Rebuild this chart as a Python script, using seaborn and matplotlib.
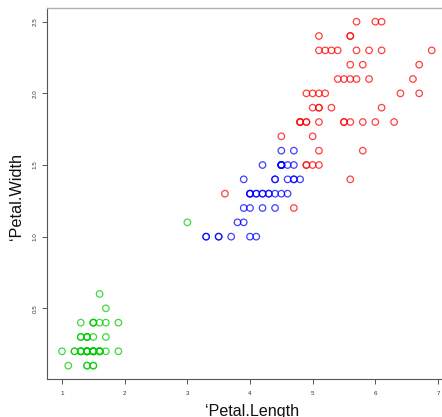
import matplotlib
matplotlib.use("Agg")
import matplotlib.pyplot as plt
import seaborn as sns
import pandas as pd

# cluster 1 (green)
green_length = [1.4, 1.4, 1.3, 1.5, 1.4, 1.7, 1.4, 1.5, 1.4, 1.5, 1.5, 1.6, 1.4, 1.1, 1.2, 1.5, 1.3,
                1.4, 1.7, 1.5, 1.7, 1.5, 1.0, 1.7, 1.9, 1.6, 1.6, 1.5, 1.4, 1.6, 1.6, 1.5, 1.5, 1.4,
                1.5, 1.2, 1.3, 1.4, 1.3, 1.5, 1.3, 1.3, 1.3, 1.6, 1.9, 1.4, 1.6, 1.4, 1.5, 1.4, 3.0]
green_width = [0.2, 0.2, 0.2, 0.2, 0.2, 0.4, 0.3, 0.2, 0.2, 0.1, 0.2, 0.2, 0.1, 0.1, 0.2, 0.4, 0.4,
               0.3, 0.3, 0.3, 0.2, 0.4, 0.2, 0.5, 0.2, 0.2, 0.4, 0.2, 0.2, 0.2, 0.2, 0.4, 0.1, 0.2,
               0.2, 0.2, 0.2, 0.1, 0.2, 0.2, 0.3, 0.3, 0.2, 0.6, 0.4, 0.3, 0.2, 0.2, 0.2, 0.2, 1.1]

# cluster 2 (blue)
blue_length = [4.7, 4.5, 4.0, 4.6, 4.5, 4.7, 3.3, 4.6, 3.9, 3.5, 4.2, 4.0, 4.7, 4.4, 4.5, 4.1, 4.5,
               3.9, 4.0, 4.3, 4.4, 4.8, 4.5, 3.5, 3.8, 3.7, 3.9, 4.5, 4.5, 4.7, 4.4, 4.1, 4.0, 4.4,
               4.6, 4.0, 3.3, 4.2, 4.2, 4.2, 4.3, 4.1]
blue_width = [1.4, 1.5, 1.3, 1.5, 1.3, 1.6, 1.0, 1.3, 1.4, 1.0, 1.5, 1.0, 1.4, 1.4, 1.5, 1.0, 1.5,
              1.1, 1.3, 1.3, 1.4, 1.4, 1.5, 1.0, 1.1, 1.0, 1.2, 1.5, 1.6, 1.5, 1.3, 1.3, 1.3, 1.2,
              1.4, 1.2, 1.0, 1.3, 1.2, 1.3, 1.3, 1.3]

# cluster 3 (red)
red_length = [4.9, 3.6, 4.8, 4.9, 4.7, 5.0, 5.1,
              6.0, 5.1, 5.9, 5.6, 5.8, 6.6, 4.5, 6.3, 5.8, 6.1, 5.1, 5.3, 5.5, 5.0, 5.1, 5.3, 5.5,
              6.7, 6.9, 5.0, 5.7, 4.9, 6.7, 4.9, 5.7, 6.0, 4.8, 4.9, 5.6, 5.8, 6.1, 6.4, 5.6, 5.1,
              5.6, 6.1, 5.6, 5.5, 4.8, 5.4, 5.6, 5.1, 5.1, 5.9, 5.7, 5.2, 5.0, 5.2, 5.4, 5.1]
red_width = [1.5, 1.3, 1.8, 1.5, 1.2, 1.7, 1.6,
             2.5, 1.9, 2.1, 1.8, 2.2, 2.1, 1.7, 1.8, 1.8, 2.5, 2.0, 1.9, 2.1, 2.0, 2.4, 2.3, 1.8,
             2.2, 2.3, 1.5, 2.3, 2.0, 2.0, 1.8, 2.1, 1.8, 1.8, 1.8, 2.1, 1.6, 1.9, 2.0, 2.2, 1.5,
             1.4, 2.3, 2.4, 1.8, 1.8, 2.1, 2.4, 2.3, 1.9, 2.3, 2.5, 2.3, 1.9, 2.0, 2.3, 1.8]

x_ticks = [1, 2, 3, 4, 5, 6, 7]
y_ticks = [0.5, 1.0, 1.5, 2.0, 2.5]

df = pd.DataFrame({
    "Petal.Length": green_length + blue_length + red_length,
    "Petal.Width": green_width + blue_width + red_width,
    "cluster": ["1"] * len(green_length) + ["2"] * len(blue_length) + ["3"] * len(red_length),
})
palette = {"1": "#00cd00", "2": "#0000ff", "3": "#ff0000"}

sns.set_style("white")
plt.rcParams["font.family"] = ["Liberation Sans", "DejaVu Sans"]

fig = plt.figure(figsize=(4.42, 4.17), dpi=100)
ax = fig.add_axes([47 / 442, 38 / 417, 395 / 442, 371 / 417])

sns.scatterplot(data=df, x="Petal.Length", y="Petal.Width", hue="cluster", palette=palette,
                marker="o", s=22, linewidth=0.9, alpha=0.75, legend=False, ax=ax)
# open circles
pts = ax.collections[0]
pts.set_edgecolors(pts.get_facecolors())
pts.set_facecolors("none")

ax.set_xlim(0.7607, 7.064)
ax.set_ylim(0.0067, 2.5956)
ax.set_xticks(x_ticks)
ax.set_xticklabels([str(t) for t in x_ticks])
ax.set_yticks(y_ticks)
ax.set_yticklabels([f"{t:.1f}" for t in y_ticks])

ax.tick_params(axis="both", direction="out", length=3.6, width=0.7, color="#555555",
               labelsize=4.5, labelcolor="#333333")
ax.tick_params(axis="x", pad=5.0, bottom=True)
ax.tick_params(axis="y", pad=3.2, left=True, labelrotation=90)
for lbl in ax.get_yticklabels():
    lbl.set_va("center")

for side in ["left", "bottom"]:
    ax.spines[side].set_color("#555555")
    ax.spines[side].set_linewidth(0.8)
ax.spines["top"].set_color("#b0b0b0")
ax.spines["top"].set_linewidth(1.0)
ax.spines["right"].set_visible(False)

ax.set_xlabel("\u2018Petal.Length", fontsize=11.6, color="#111111")
ax.set_ylabel("\u2018Petal.Width", fontsize=11.7, color="#111111")
ax.xaxis.label.set_va("baseline")
ax.xaxis.set_label_coords(0.519, -0.1)
ax.yaxis.label.set_va("baseline")
ax.yaxis.set_label_coords(-0.066, 0.493)

fig.savefig("out.png", dpi=100)
